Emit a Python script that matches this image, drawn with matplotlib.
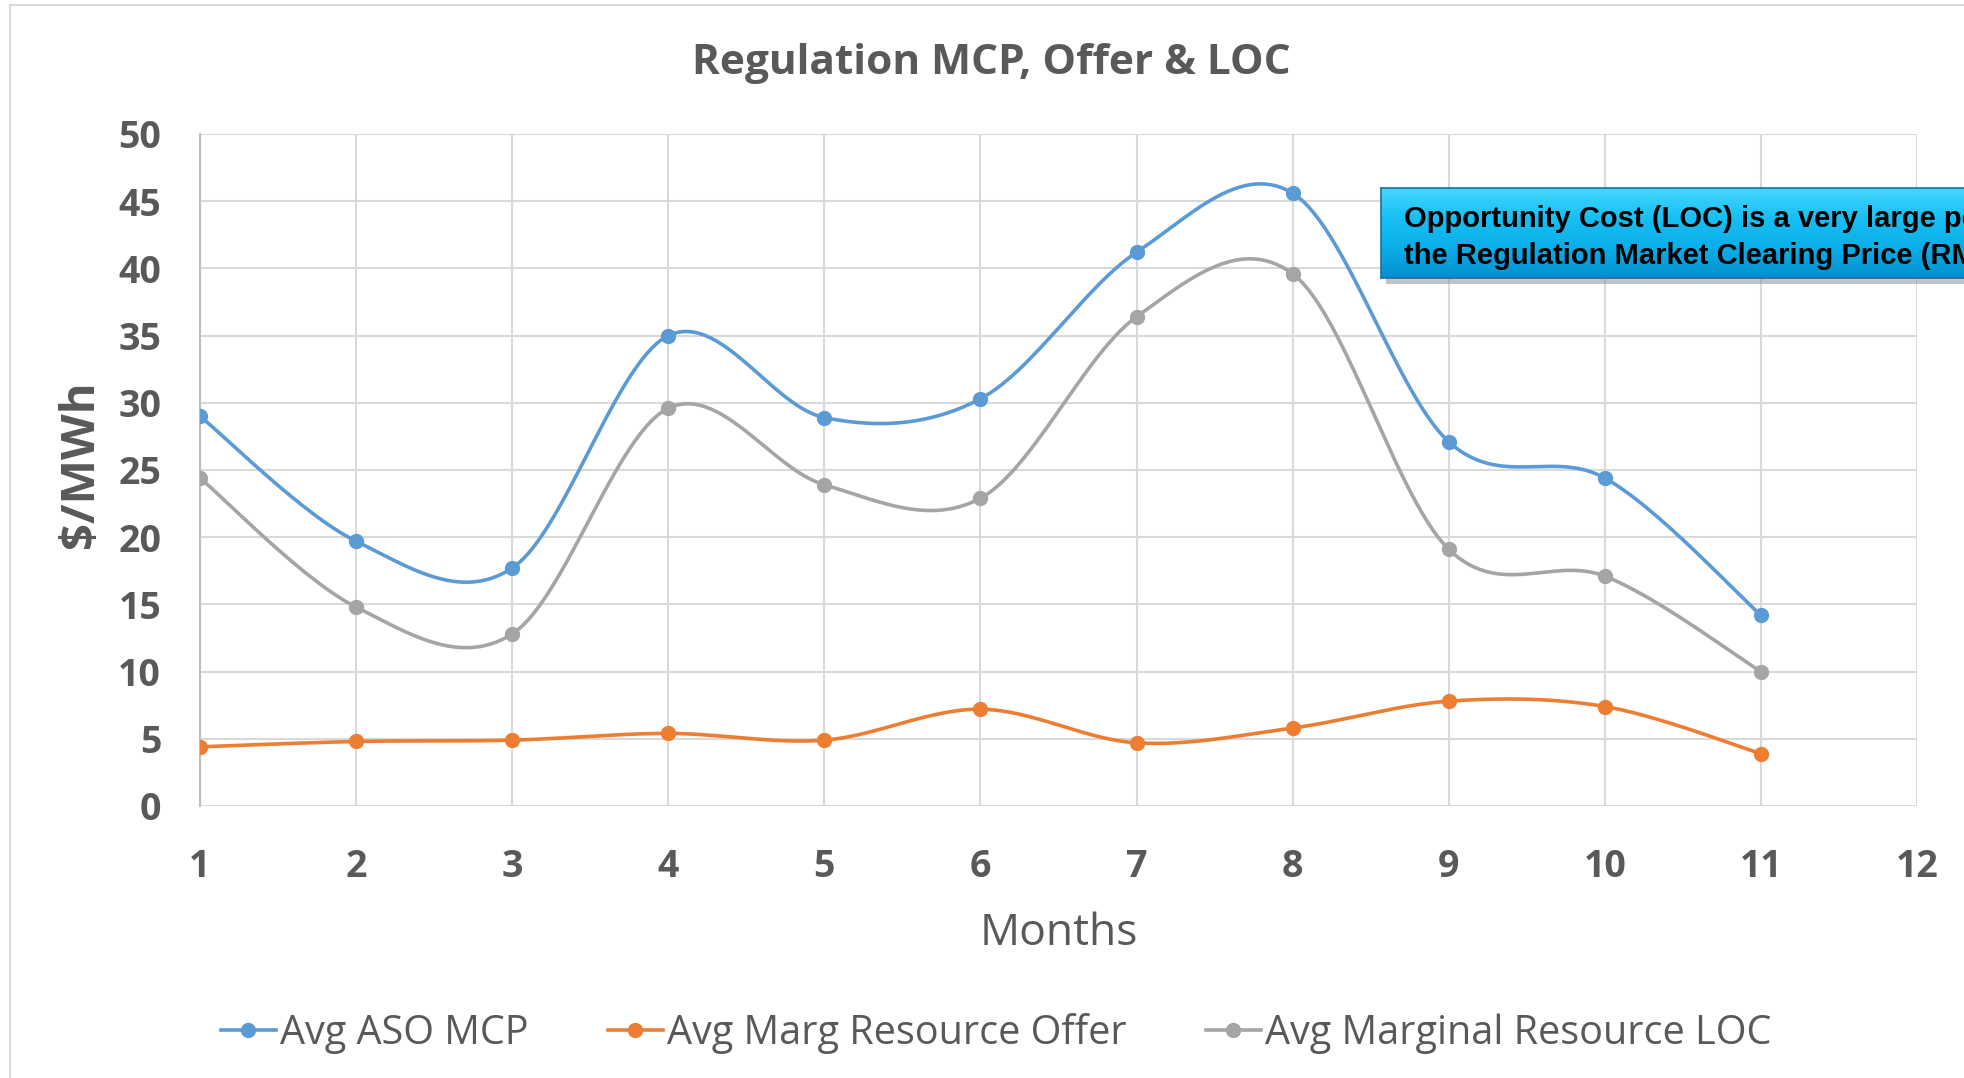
import matplotlib
matplotlib.use("Agg")
import matplotlib.pyplot as plt
from matplotlib.patches import Rectangle
from matplotlib.colors import LinearSegmentedColormap
import numpy as np

# data
months = [1, 2, 3, 4, 5, 6, 7, 8, 9, 10, 11]
aso_mcp = [29.0, 19.7, 17.7, 35.0, 28.9, 30.3, 41.2, 45.6, 27.1, 24.4, 14.2]
marg_offer = [4.4, 4.8, 4.9, 5.4, 4.9, 7.2, 4.7, 5.8, 7.8, 7.4, 3.9]
marg_loc = [24.4, 14.8, 12.8, 29.6, 23.9, 22.9, 36.4, 39.6, 19.1, 17.1, 10.0]

series_names = ["Avg ASO MCP", "Avg Marg Resource Offer", "Avg Marginal Resource LOC"]
series_colors = ["#5B9BD5", "#ED7D31", "#A5A5A5"]

note_text = ("Opportunity Cost (LOC) is a very large portion of\n"
             "the Regulation Market Clearing Price (RMCP)")


def smooth(x, y, n=30):
    # excel-style smoothed line: catmull-rom through the points as bezier segments
    x = np.asarray(x, float)
    y = np.asarray(y, float)
    px = np.concatenate([[x[0]], x, [x[-1]]])
    py = np.concatenate([[y[0]], y, [y[-1]]])
    t = np.linspace(0, 1, n)[:, None]
    xs, ys = [], []
    for i in range(1, len(px) - 2):
        p0 = np.array([px[i - 1], py[i - 1]])
        p1 = np.array([px[i], py[i]])
        p2 = np.array([px[i + 1], py[i + 1]])
        p3 = np.array([px[i + 2], py[i + 2]])
        b1 = p1 + (p2 - p0) / 6
        b2 = p2 - (p3 - p1) / 6
        pts = ((1 - t) ** 3) * p1 + 3 * ((1 - t) ** 2) * t * b1 + 3 * (1 - t) * t ** 2 * b2 + t ** 3 * p2
        xs.append(pts[:, 0])
        ys.append(pts[:, 1])
    return np.concatenate(xs), np.concatenate(ys)


plt.rcParams['font.family'] = ['Open Sans', 'DejaVu Sans']
txt_col = "#595959"

fig = plt.figure(figsize=(19.65, 10.78), dpi=100)
fig.patch.set_facecolor("white")

# chart area border
fig.patches.append(Rectangle((10 / 1965, -0.1), 1.2, 1.1 - 5 / 1078, transform=fig.transFigure,
                             fill=False, edgecolor="#d9d9d9", linewidth=1.5))

ax = fig.add_axes([200 / 1965, 1 - 806 / 1078, (1917 - 200) / 1965, (806 - 134) / 1078], zorder=0)

handles = []
for vals, name, col in zip([aso_mcp, marg_offer, marg_loc], series_names, series_colors):
    sx, sy = smooth(months, vals)
    ax.plot(sx, sy, color=col, linewidth=2.6, zorder=3)
    ax.plot(months, vals, linestyle="none", marker="o", markersize=10, color=col, zorder=4)
    h, = ax.plot([], [], color=col, linewidth=2.6, marker="o", markersize=10)
    handles.append(h)

ax.set_xlim(1, 12)
ax.set_ylim(0, 50)
ax.set_xticks(range(1, 13))
ax.set_yticks(range(0, 51, 5))
ax.grid(True, color="#d9d9d9", linewidth=1.5)
ax.set_axisbelow(True)
for s in ["top", "right", "bottom"]:
    ax.spines[s].set_visible(False)
ax.spines["left"].set_color("#bfbfbf")
ax.spines["left"].set_linewidth(1.5)
ax.tick_params(length=0, labelsize=27, colors=txt_col)
ax.tick_params(axis="x", pad=30)
ax.tick_params(axis="y", pad=28)
for lab in ax.get_xticklabels() + ax.get_yticklabels():
    lab.set_fontweight("bold")

fig.text(81 / 1965, 1 - 464 / 1078, "$/MWh", rotation=90, ha="center", va="center",
         fontsize=34, fontweight="bold", color=txt_col)
fig.text(991 / 1965, 1 - 63 / 1078, "Regulation MCP, Offer & LOC", ha="center", va="center",
         fontsize=30.5, fontweight="bold", color=txt_col)
fig.text(1059 / 1965, 1 - 934 / 1078, "Months", ha="center", va="center",
         fontsize=32, color=txt_col)

leg = fig.legend(handles, series_names, loc="center", bbox_to_anchor=(996 / 1965, 1 - 1033 / 1078),
                 ncol=3, frameon=False, fontsize=28.5, handlelength=1.4, handletextpad=0.1,
                 columnspacing=2.0, labelcolor=txt_col)

# callout box, running off the right edge (cut off in the original too)
shadow = fig.add_axes([1386 / 1965, 1 - 284 / 1078, 0.35, 90 / 1078], zorder=1)
shadow.set_facecolor("#9a9a9a")
shadow.patch.set_alpha(0.6)
shadow.set_xticks([])
shadow.set_yticks([])
for s in shadow.spines.values():
    s.set_visible(False)

box = fig.add_axes([1381 / 1965, 1 - 278 / 1078, 0.35, 90 / 1078], zorder=2)
grad = np.linspace(0, 1, 100)[:, None]
cmap = LinearSegmentedColormap.from_list("cy", ["#45d6ff", "#17bff4", "#0aaee8", "#0590cf"])
box.imshow(grad, aspect="auto", cmap=cmap, extent=[0, 1, 0, 1])
box.set_xticks([])
box.set_yticks([])
for s in box.spines.values():
    s.set_color("#1d6fa0")
    s.set_linewidth(1.2)
box.text(23 / (0.35 * 1965), 0.45, note_text, transform=box.transAxes, ha="left", va="center",
         fontsize=21, fontweight="bold", color="black", family=["Liberation Sans", "DejaVu Sans"],
         linespacing=1.38)

fig.savefig("out.png", dpi=100, facecolor="white")
